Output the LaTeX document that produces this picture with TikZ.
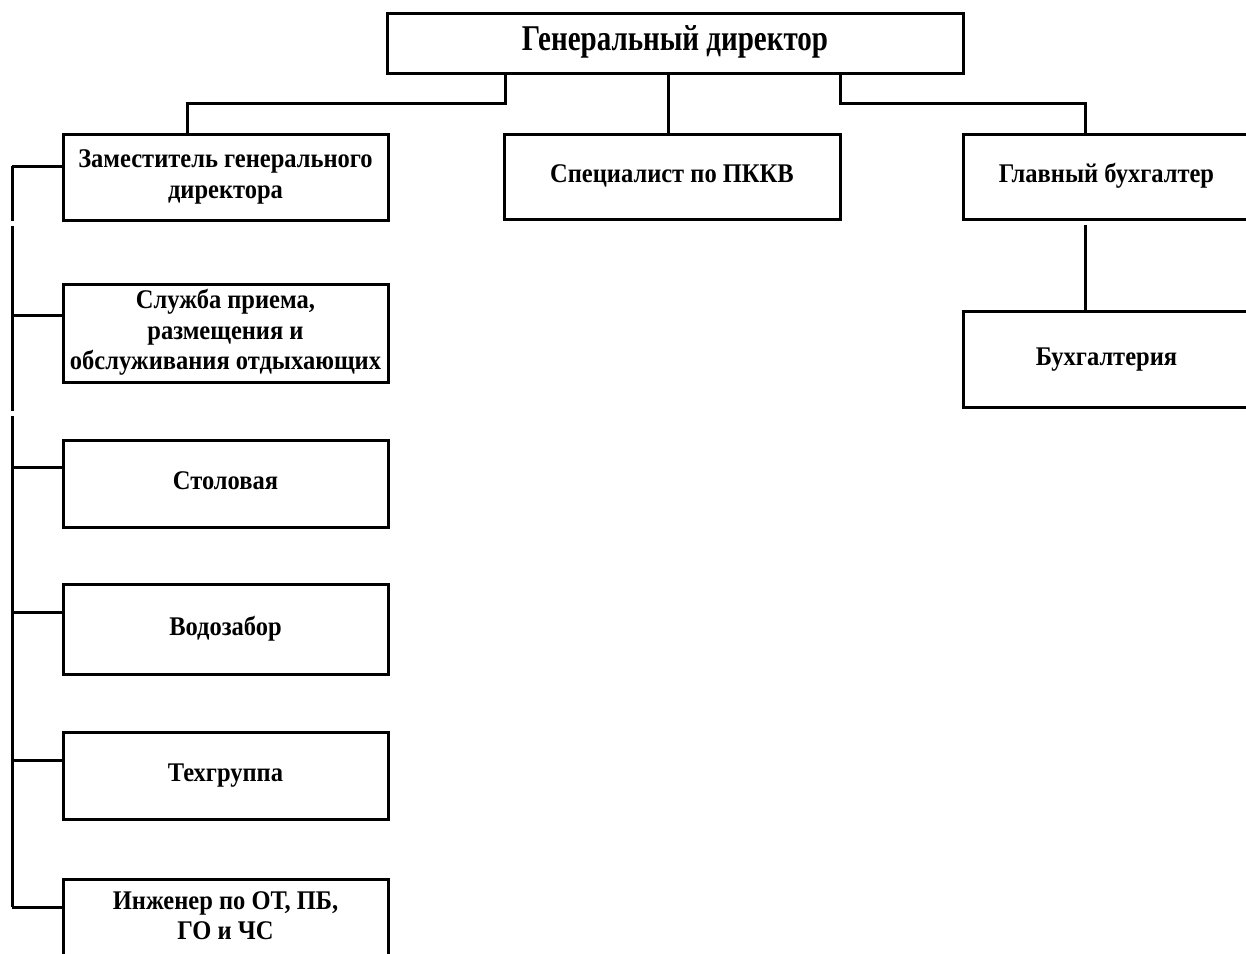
\documentclass[tikz,border=0pt]{standalone}
\usepackage{fontspec}
\setmainfont{Liberation Serif}
\usepackage{graphicx}
\usetikzlibrary{calc}
% Text of a box, a little taller than the font gives it
\newcommand{\BoxText}[2][1.1]{\scalebox{1}[#1]{\begin{tabular}{@{}c@{}}#2\end{tabular}}}
\tikzset{%
	% Style of the box
	Box/.style={rectangle,draw=black,line width=3pt,inner sep=0pt,
		font=\bfseries\fontsize{24.5}{27.3}\selectfont},
	% Style of the top box label
	TopName/.style={font=\bfseries\fontsize{29}{29}\selectfont},
	% Style of the branch
	Connection/.style={line width=3pt},
}

\begin{document}
\begin{tikzpicture}[x=1pt,y=-1pt] % STYLES
\useasboundingbox (0,0) rectangle (1246,953);
\clip (0,0) rectangle (1246,953);

%~~~~~~~~~~~~~~~~~~~~~~~~~~~~~~~~~~~~~~~~~~~~~~~~~~
% Set Boxes
%~~~~~~~~~~~~~~~~~~~~~~~~~~~~~~~~~~~~~~~~~~~~~~~~~~
\node[Box, TopName, minimum width=576pt, minimum height=60pt] (Director) at (675, 43) {\BoxText[1.25]{Генеральный директор}};

\node[Box, minimum width=325pt, minimum height=86pt] (Deputy) at (225.5, 177) {\BoxText{Заместитель генерального\\директора}};
\node[Box, minimum width=336pt, minimum height=85pt] (Specialist) at (672, 176.5) {\BoxText{Специалист по ПККВ}};
\node[Box, minimum width=287pt, minimum height=85pt] (ChiefAcc) at (1106.5, 176.5) {\BoxText{Главный бухгалтер}};

\node[Box, minimum width=287pt, minimum height=96pt] (Accounting) at (1106.5, 359) {\BoxText{Бухгалтерия}};

\node[Box, minimum width=325pt, minimum height=98pt] (Reception) at (225.5, 333) {\BoxText{Служба приема,\\размещения и\\обслуживания отдыхающих}};
\node[Box, minimum width=325pt, minimum height=87pt] (Canteen) at (225.5, 483.5) {\BoxText{Столовая}};
\node[Box, minimum width=325pt, minimum height=90pt] (Water) at (225.5, 629) {\BoxText{Водозабор}};
\node[Box, minimum width=325pt, minimum height=87pt] (TechGroup) at (225.5, 775.5) {\BoxText{Техгруппа}};
\node[Box, minimum width=325pt, minimum height=79pt] (Engineer) at (225.5, 918.5) {\BoxText{Инженер по ОТ, ПБ,\\ГО и ЧС}};

%~~~~~~~~~~~~~~~~~~~~~~~~~~~~~~~~~~~~~~~~~~~~~~~~~~
% Set Branches
%~~~~~~~~~~~~~~~~~~~~~~~~~~~~~~~~~~~~~~~~~~~~~~~~~~
\coordinate (OutL) at (505, 73);
\coordinate (JoinL) at (187, 103);
\coordinate (JoinM) at (668, 103);
\coordinate (OutR) at (840, 73);
\coordinate (JoinR) at (1085, 103);

%Branch from Director to Deputy
\draw [Connection] (OutL) |- (JoinL) -- (JoinL |- Deputy.north);

%Branch from Director to Specialist
\draw [Connection] (JoinM |- Director.south) -- (JoinM |- Specialist.north);

%Branch from Director to ChiefAcc
\draw [Connection] (OutR) |- (JoinR) -- (JoinR |- ChiefAcc.north);

%Branch from ChiefAcc to Accounting
\draw [Connection, shorten <=4pt] (JoinR |- ChiefAcc.south) -- (JoinR |- Accounting.north);

%Trunk on the left, with its two small breaks
\coordinate (tDeputy) at (12, 166);
\coordinate (tEngineer) at (12, 907);
\draw [Connection] (tDeputy) -- (12, 221);
\draw [Connection] (12, 226) -- (12, 411);
\draw [Connection] (12, 416) -- (tEngineer);

%Branches from the trunk to the boxes
\foreach \n/\y in {Deputy/166, Reception/315, Canteen/467, Water/612, TechGroup/760, Engineer/907}
	\draw [Connection] (12, \y) -- (\n.west |- 0, \y);

\end{tikzpicture}
\end{document}
